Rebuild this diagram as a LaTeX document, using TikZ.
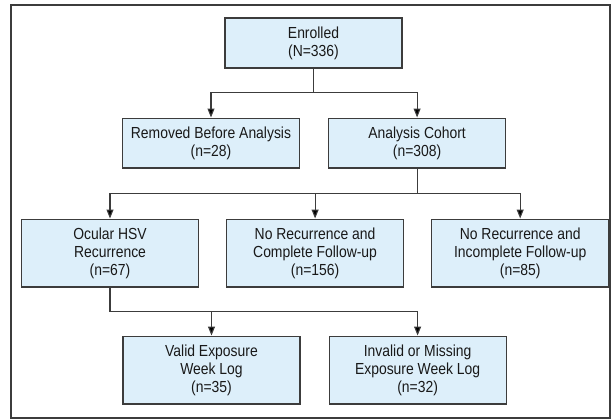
\documentclass[tikz,border=0pt]{standalone}
\usepackage{fontspec}
\setmainfont{Liberation Sans}[FakeStretch=0.87]
\usetikzlibrary{arrows.meta, positioning}
\definecolor{boxfill}{RGB}{221,239,250}
\definecolor{boxline}{RGB}{60,60,60}
\tikzset{box/.style={rectangle,draw=boxline,fill=boxfill,line width=1.1pt,align=center,inner xsep=3pt,inner ysep=8.5pt,minimum width=177pt,font=\fontsize{16}{18}\selectfont,text=black!90},line/.style={draw=boxline,line width=1.1pt,-{Triangle[length=9pt,width=7pt,fill=black]}}}

\begin{document}
\begin{tikzpicture}[x=1pt,y=1pt,node distance=49pt and 28pt]
\useasboundingbox (0,0) rectangle (614,-420);
\draw[boxline,line width=1.8pt] (11,-5) rectangle (610,-418);
\node[box] (enr) at (313.5,-43) {Enrolled\\(N=336)};
\node[box, below=49pt of enr, xshift=-102.5pt] (rem) {Removed Before Analysis\\(n=28)};
\node[box, right=28pt of rem] (coh) {Analysis Cohort\\(n=308)};
\node[box, below=50pt of coh, xshift=-102pt] (cmp) {No Recurrence and\\Complete Follow-up\\(n=156)};
\node[box, left=27pt of cmp] (ocu) {Ocular HSV\\Recurrence\\(n=67)};
\node[box, right=27pt of cmp] (inc) {No Recurrence and\\Incomplete Follow-up\\(n=85)};
\node[box, below=48pt of ocu, xshift=101.5pt] (val) {Valid Exposure\\Week Log\\(n=35)};
\node[box, right=28pt of val] (inv) {Invalid or Missing\\Exposure Week Log\\(n=32)};
\draw[line] (enr.south) -- ++(0,-24) -| (rem.north);
\draw[line] (enr.south) -- ++(0,-24) -| (coh.north);
\draw[line] (coh.south) -- ++(0,-25) -| (ocu.north);
\draw[line] (coh.south) -- ++(0,-25) -| (cmp.north);
\draw[line] (coh.south) -- ++(0,-25) -| (inc.north);
\draw[line] (ocu.south) -- ++(0,-24) -| (val.north);
\draw[line] (ocu.south) -- ++(0,-24) -| (inv.north);
\end{tikzpicture}
\end{document}
